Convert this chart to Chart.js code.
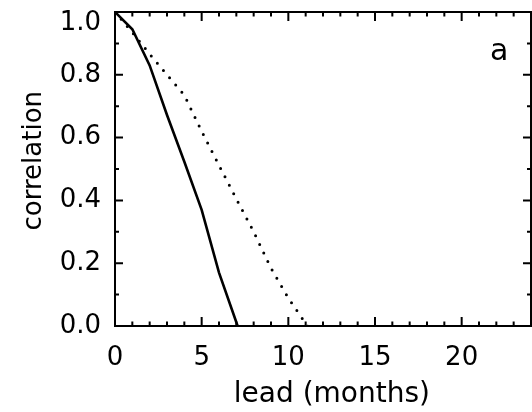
<!DOCTYPE html>
<html>
<head>
<meta charset="utf-8">
<script src="https://cdn.jsdelivr.net/npm/chart.js@4.4.0/dist/chart.umd.min.js"></script>
<style>
  html, body { margin: 0; padding: 0; background: #fff; }
  canvas { display: block; }
</style>
</head>
<body>
<canvas id="c" width="532" height="412"></canvas>
<script>
// ---- data ----
const leadsSolid  = [0, 1, 2, 3, 4, 5, 6, 7, 8];
const corrSolid   = [1.0, 0.945, 0.83, 0.672, 0.523, 0.37, 0.17, 0.012, -0.15];
const leadsDotted = [0, 1, 2, 3, 4, 5, 6, 7, 8, 9, 10, 11, 12];
const corrDotted  = [1.0, 0.935, 0.866, 0.80, 0.735, 0.62, 0.512, 0.405, 0.30, 0.184, 0.089, 0.008, -0.07];
const xMajorTicks = [0, 5, 10, 15, 20];
const xMinorTicks = [1, 2, 3, 4, 6, 7, 8, 9, 11, 12, 13, 14, 16, 17, 18, 19, 21, 22, 23];
const yMajorTicks = [0.0, 0.2, 0.4, 0.6, 0.8, 1.0];
const yMinorTicks = [0.1, 0.3, 0.5, 0.7, 0.9];
const xTitle = '  lead (months)';
const yTitle = '  correlation';
const panelLabel = 'a';

const FONT = 'DejaVu Sans';

const frameTicks = {
  id: 'frameTicks',
  afterDatasetsDraw(chart) {
    const {ctx, chartArea: a, scales: {x, y}} = chart;
    ctx.save();
    ctx.strokeStyle = '#000';
    ctx.lineWidth = 2;
    ctx.lineCap = 'butt';
    ctx.strokeRect(a.left, a.top, a.right - a.left, a.bottom - a.top);
    const drawX = (vals, len) => {
      vals.forEach(v => {
        const px = x.getPixelForValue(v);
        ctx.beginPath();
        ctx.moveTo(px, a.bottom); ctx.lineTo(px, a.bottom - len);
        ctx.moveTo(px, a.top); ctx.lineTo(px, a.top + len);
        ctx.stroke();
      });
    };
    const drawY = (vals, len) => {
      vals.forEach(v => {
        const py = y.getPixelForValue(v);
        ctx.beginPath();
        ctx.moveTo(a.left, py); ctx.lineTo(a.left + len, py);
        ctx.moveTo(a.right, py); ctx.lineTo(a.right - len, py);
        ctx.stroke();
      });
    };
    drawX(xMajorTicks, 9);
    drawX(xMinorTicks, 4.5);
    drawY(yMajorTicks, 8);
    drawY(yMinorTicks, 4);
    ctx.fillStyle = '#000';
    ctx.font = '30px "' + FONT + '"';
    ctx.textAlign = 'left';
    ctx.textBaseline = 'alphabetic';
    ctx.fillText(panelLabel, a.right - 41, a.top + 48);
    ctx.restore();
  }
};

new Chart(document.getElementById('c'), {
  type: 'line',
  data: {
    datasets: [
      {
        data: leadsSolid.map((v, i) => ({x: v, y: corrSolid[i]})),
        borderColor: '#000',
        borderWidth: 2.6,
        pointRadius: 0,
        tension: 0,
        fill: false
      },
      {
        data: leadsDotted.map((v, i) => ({x: v, y: corrDotted[i]})),
        borderColor: '#000',
        borderWidth: 3,
        borderDash: [0, 9.5],
        borderCapStyle: 'round',
        pointRadius: 0,
        tension: 0,
        fill: false
      }
    ]
  },
  options: {
    responsive: false,
    animation: false,
    events: [],
    layout: { padding: { top: 12, right: 1, left: 0, bottom: 0 } },
    plugins: { legend: { display: false }, tooltip: { enabled: false } },
    scales: {
      x: {
        type: 'linear',
        min: 0, max: 24,
        afterBuildTicks: s => { s.ticks = xMajorTicks.map(v => ({value: v})); },
        afterFit: s => { s.height = 86; s.paddingLeft = 0; s.paddingRight = 0; },
        grid: { display: false, drawTicks: false },
        border: { display: false },
        ticks: {
          color: '#000', padding: 17, maxRotation: 0, autoSkip: false,
          font: { family: FONT, size: 26 },
          callback: v => String(v)
        },
        title: {
          display: true, text: xTitle, color: '#000',
          font: { family: FONT, size: 28 },
          padding: { top: 0, bottom: 0 }
        }
      },
      y: {
        type: 'linear',
        min: 0, max: 1,
        afterBuildTicks: s => { s.ticks = yMajorTicks.map(v => ({value: v})); },
        afterFit: s => { s.width = 115; s.paddingTop = 0; s.paddingBottom = 0; },
        grid: { display: false, drawTicks: false },
        border: { display: false },
        ticks: {
          color: '#000', padding: 14, autoSkip: false,
          font: { family: FONT, size: 26, lineHeight: '23px' },
          // the top label sits just below the frame corner, as in the reference
          callback: v => (Number(v) === 1 ? ['', Number(v).toFixed(1)] : Number(v).toFixed(1))
        },
        title: {
          display: true, text: yTitle, color: '#000',
          font: { family: FONT, size: 26 },
          padding: { top: 19, bottom: 0 }
        }
      }
    }
  },
  plugins: [frameTicks]
});
</script>
</body>
</html>
